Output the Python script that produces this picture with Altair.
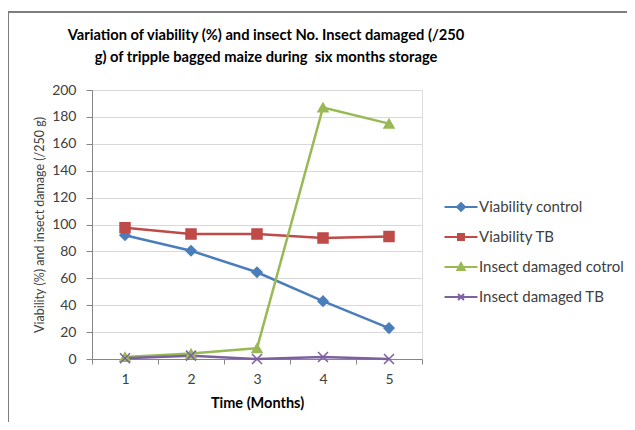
import altair as alt
import pandas as pd

months = [1, 2, 3, 4, 5]
series = ["Viability control", "Viability TB", "Insect damaged cotrol", "Insect damaged TB"]
viability_control = [92, 80.5, 64.5, 43, 23]
viability_tb = [97.5, 93, 93, 90, 91]
insect_control = [1.5, 4, 8, 187, 175]
insect_tb = [0.5, 2.5, 0, 1.5, 0]
colors = ["#4A7EBB", "#BE4B48", "#98B954", "#7D60A0"]
y_ticks = list(range(0, 201, 20))

marker_shapes = ["diamond", "square", "triangle-up", "M-1,-1L1,1M-1,1L1,-1"]
legend_shapes = [
    "M-2.5,0L2.5,0M0,-0.6L0.6,0L0,0.6L-0.6,0ZM0,-0.3L0.3,0L0,0.3L-0.3,0Z",
    "M-2.5,0L2.5,0M-0.45,-0.45L0.45,-0.45L0.45,0.45L-0.45,0.45ZM-0.2,-0.2L0.2,-0.2L0.2,0.2L-0.2,0.2Z",
    "M-2.5,0L2.5,0M0,-0.6L0.55,0.45L-0.55,0.45ZM0,-0.25L0.25,0.25L-0.25,0.25Z",
    "M-2.5,0L2.5,0M-0.45,-0.45L0.45,0.45M-0.45,0.45L0.45,-0.45",
]

rows = []
for name, vals in zip(series, [viability_control, viability_tb, insect_control, insect_tb]):
    for m, v in zip(months, vals):
        rows.append({"month": m, "value": v, "series": name})
df = pd.DataFrame(rows)

FONT = "Lato"
LABEL_COLOR = "#404040"
AXIS_COLOR = "#868686"

x_enc = alt.X(
    "month:O",
    scale=alt.Scale(type="band", paddingInner=0, paddingOuter=0),
    axis=alt.Axis(
        title="Time (Months)", labelAngle=0, tickBand="extent", grid=False,
        domainColor=AXIS_COLOR, tickColor=AXIS_COLOR, tickSize=5,
        labelFont=FONT, labelFontSize=14, labelColor=LABEL_COLOR, labelPadding=8,
        titleFont=FONT, titleFontSize=14.5, titleFontWeight="bold", titleColor="#000000",
        titlePadding=10,
    ),
)
y_enc = alt.Y(
    "value:Q",
    scale=alt.Scale(domain=[0, 200], nice=False),
    axis=alt.Axis(
        title="Viability (%) and insect damage (/250 g)", values=y_ticks,
        grid=True, gridColor="#D9D9D9", domainColor=AXIS_COLOR, tickColor=AXIS_COLOR,
        tickSize=6, labelFont=FONT, labelFontSize=14, labelColor=LABEL_COLOR,
        labelPadding=10, titleFont=FONT, titleFontSize=12.5, titleFontWeight="normal",
        titleColor=LABEL_COLOR, titlePadding=5,
    ),
)

color_scale = alt.Scale(domain=series, range=colors)

lines = alt.Chart(df).mark_line(strokeWidth=2.5).encode(
    x=x_enc, y=y_enc,
    color=alt.Color("series:N", scale=color_scale, legend=None),
    detail="series:N",
)
points = alt.Chart(df).mark_point(filled=False, strokeWidth=1.5, opacity=1).encode(
    x=x_enc, y=y_enc,
    color=alt.Color("series:N", scale=color_scale, legend=None),
    fill=alt.Fill("series:N", scale=color_scale, legend=None),
    shape=alt.Shape("series:N", scale=alt.Scale(domain=series, range=marker_shapes), legend=None),
    size=alt.value(100),
)
main = alt.layer(lines, points)

legend_layer = alt.Chart(df).transform_filter("datum.value < -1000").mark_point(
    filled=False, strokeWidth=2, opacity=1
).encode(
    color=alt.Color(
        "series:N", scale=color_scale,
        legend=alt.Legend(
            title=None, orient="none", legendX=360, legendY=109,
            labelFont=FONT, labelFontSize=15, labelColor=LABEL_COLOR,
            symbolSize=174, symbolStrokeWidth=2, rowPadding=14, labelOffset=10,
            symbolOffset=1,
        ),
    ),
    shape=alt.Shape("series:N", scale=alt.Scale(domain=series, range=legend_shapes)),
)

border_top = alt.Chart(df).mark_rule(color="#7F7F7F", strokeWidth=1).encode(
    x=alt.value(-84), x2=alt.value(543), y=alt.value(-78)
)
border_left = alt.Chart(df).mark_rule(color="#7F7F7F", strokeWidth=1).encode(
    x=alt.value(-84), y=alt.value(-78), y2=alt.value(340)
)

chart = alt.layer(main, legend_layer, border_top, border_left).resolve_scale(
    color="independent", shape="independent", fill="independent"
).properties(
    width=330, height=269,
    padding={"left": 84, "top": 82, "right": 205, "bottom": 63},
    autosize=alt.AutoSizeParams(type="none"),
    title=alt.TitleParams(
        text=["Variation of viability (%) and insect No. Insect damaged (/250",
              "g) of tripple bagged maize during \u00a0six months storage"],
        font=FONT, fontSize=14.7, fontWeight="bold", color="#000000",
        anchor="middle", frame="group", dx=9, offset=0, dy=53, lineHeight=22,
    ),
).configure_view(stroke=None).configure(background="white")

chart.save("out.html", embed_options={"renderer": "svg", "actions": False})
